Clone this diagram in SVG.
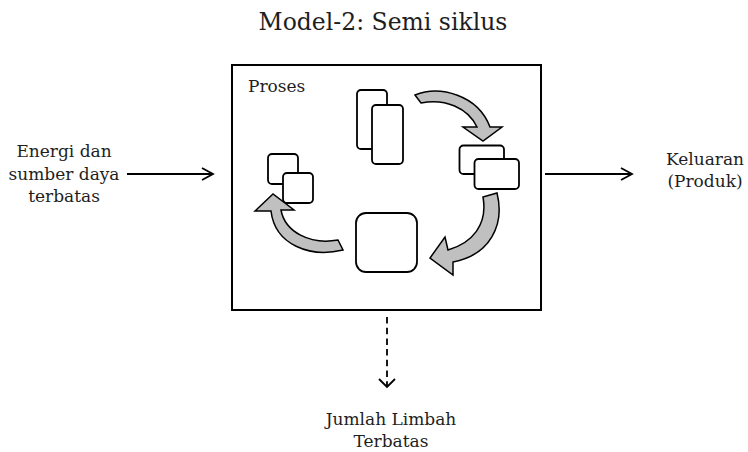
<svg xmlns="http://www.w3.org/2000/svg" width="748" height="452" viewBox="0 0 748 452">
<defs>
<style>
text{font-family:"DejaVu Serif","Liberation Serif",serif;fill:#1e1e1e;font-size:17px}
.t{text-anchor:middle}
.box{fill:#fff;stroke:#000;stroke-width:2}
.r{fill:#fff;stroke:#000;stroke-width:1.8}
.ca{fill:#c0c0c0;stroke:#000;stroke-width:1.5;stroke-linejoin:miter}
.ln{fill:none;stroke:#000;stroke-width:1.8}
</style>
<marker id="open" viewBox="0 0 14 14" refX="12" refY="7" markerWidth="14" markerHeight="14" markerUnits="userSpaceOnUse" orient="auto">
<path d="M1,1 L12,7 L1,13" fill="none" stroke="#000" stroke-width="1.8"/>
</marker>
</defs>
<rect width="748" height="452" fill="#fff"/>
<text x="383" y="30" class="t" style="font-size:23.5px">Model-2: Semi siklus</text>
<g id="proses">
<rect class="box" x="232" y="65" width="309" height="245"/>
<text x="248" y="92">Proses</text>
<g id="tall-pair">
<rect class="r" x="357" y="90" width="30" height="59" rx="4"/>
<rect class="r" x="372" y="105" width="31" height="59" rx="4"/>
</g>
<g id="right-pair">
<rect class="r" x="459.5" y="145.5" width="44.5" height="28.5" rx="4"/>
<rect class="r" x="474.5" y="159" width="44.5" height="30" rx="4"/>
</g>
<g id="left-pair">
<rect class="r" x="268" y="154" width="30" height="30" rx="4"/>
<rect class="r" x="283" y="173" width="30" height="30" rx="4"/>
</g>
<g id="big-square">
<rect class="r" x="356" y="213" width="61" height="59" rx="10"/>
</g>
<g id="cycle-arrows">
<path class="ca" d="M415,95 C440,85 478,95 490,127 L502,127 L483,141 L463,127 L477,127 C468,108 445,98 421,103 Z"/>
<path class="ca" d="M483,197 L497,193 C505,225 490,255 453,262 L453,275 L430,258 L445,237 L448,250 C472,243 488,225 483,197 Z"/>
<path class="ca" d="M338,240 L343,250 C310,258 275,245 271,211 L255,211 L273,194 L294,210 L281,210 C285,232 310,245 338,240 Z"/>
</g>
</g>
<g id="input">
<text x="64" y="157" class="t">Energi dan</text>
<text x="64" y="179.5" class="t">sumber daya</text>
<text x="64" y="202" class="t">terbatas</text>
</g>
<g id="output">
<text x="705" y="165" class="t">Keluaran</text>
<text x="705" y="187" class="t">(Produk)</text>
</g>
<g id="waste">
<text x="391" y="425" class="t">Jumlah Limbah</text>
<text x="391" y="447" class="t">Terbatas</text>
</g>
<g id="connectors">
<line class="ln" x1="127" y1="174" x2="213" y2="174" marker-end="url(#open)"/>
<line class="ln" x1="545" y1="174" x2="632" y2="174" marker-end="url(#open)"/>
<line class="ln" x1="387" y1="317" x2="387" y2="386" stroke-dasharray="6.5,4.2"/>
<path d="M379,379 L387,387 L395,379" fill="none" stroke="#000" stroke-width="1.8"/>
</g>
</svg>
